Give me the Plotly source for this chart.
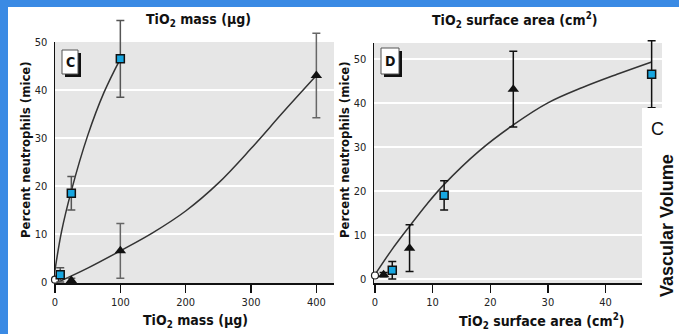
import plotly.graph_objects as go

# ---------------- data ----------------
# Panel C : TiO2 mass (ug)
c_sq_x = [8, 25, 100]
c_sq_y = [1.5, 18.5, 46.5]
c_sq_err = [1.5, 3.5, 8.0]
c_tri_x = [25, 100, 400]
c_tri_y = [0.3, 6.5, 43.0]
c_tri_err = [0.5, 5.7, 8.8]
c_ctrl_x = [0]
c_ctrl_y = [0.5]
c_sq_curve_x = [0, 10, 25, 50, 75, 100]
c_sq_curve_y = [2.5, 10.5, 19.0, 30.5, 39.5, 46.5]
c_tri_curve_x = [5, 50, 100, 150, 200, 250, 300, 350, 400]
c_tri_curve_y = [0.0, 2.9, 6.5, 10.3, 14.8, 20.6, 27.8, 35.5, 43.0]
c_xticks = [0, 100, 200, 300, 400]
c_yticks = [0, 10, 20, 30, 40, 50]

# Panel D : TiO2 surface area (cm2)
d_sq_x = [3, 12, 48]
d_sq_y = [2.0, 19.0, 46.5]
d_sq_err = [2.0, 3.3, 7.6]
d_tri_x = [1.5, 6, 24]
d_tri_y = [1.0, 7.0, 43.1]
d_tri_err = [0.5, 5.3, 8.6]
d_ctrl_x = [0]
d_ctrl_y = [0.8]
d_curve_x = [0, 3, 6, 9, 12, 18, 24, 30, 36, 42, 48]
d_curve_y = [1.0, 6.8, 12.0, 17.0, 21.5, 29.0, 35.0, 40.0, 43.5, 46.5, 49.3]
d_xticks = [0, 10, 20, 30, 40]
d_yticks = [0, 10, 20, 30, 40, 50]

# ---------------- styling ----------------
W, H = 679, 334
BLUE = "#3a8ae4"
GRAY = "#e6e6e6"
CYAN = "#17a6e0"
FONT = "DejaVu Sans Condensed, Liberation Sans Narrow, Liberation Sans, Arial"

# pixel layout of the two panels
C_L, C_R, C_T, C_B = 55, 334, 42, 283
D_L, D_R, D_T, D_B = 374, 662, 43, 283
AUX_T = 12  # taller helper subplot so error bars can rise above the panels
C_XR = [0, 427]
C_YR = [-0.2, 50]
D_XR = [-0.17, 49.8]
D_YR = [-0.9, 53.6]


def px(x):
    return x / W


def py(y):
    return 1 - y / H


def aux_range(yr, top, bottom):
    scale = (bottom - top) / (yr[1] - yr[0])
    return [yr[0], yr[0] + (bottom - AUX_T) / scale]


fig = go.Figure()

line_style = dict(color="#333", width=1.5, shape="spline")
fig.add_trace(go.Scatter(x=c_sq_curve_x, y=c_sq_curve_y, mode="lines", line=line_style,
                         xaxis="x", yaxis="y", hoverinfo="skip"))
fig.add_trace(go.Scatter(x=c_tri_curve_x, y=c_tri_curve_y, mode="lines", line=line_style,
                         xaxis="x", yaxis="y", hoverinfo="skip"))
fig.add_trace(go.Scatter(x=d_curve_x, y=d_curve_y, mode="lines", line=line_style,
                         xaxis="x2", yaxis="y2", hoverinfo="skip"))

# points panel C (on helper axes x3/y3)
fig.add_trace(go.Scatter(x=c_ctrl_x, y=c_ctrl_y, mode="markers", cliponaxis=False,
                         marker=dict(symbol="circle", size=7, color="white", line=dict(color="#222", width=1.2)),
                         xaxis="x3", yaxis="y3"))
fig.add_trace(go.Scatter(x=c_tri_x, y=c_tri_y, mode="markers", cliponaxis=False,
                         error_y=dict(type="data", array=c_tri_err, color="#666", thickness=1.5, width=4),
                         marker=dict(symbol="triangle-up", size=10, color="#111"),
                         xaxis="x3", yaxis="y3"))
fig.add_trace(go.Scatter(x=c_sq_x, y=c_sq_y, mode="markers", cliponaxis=False,
                         error_y=dict(type="data", array=c_sq_err, color="#555", thickness=1.5, width=4),
                         marker=dict(symbol="square", size=8, color=CYAN, line=dict(color="#111", width=1.5)),
                         xaxis="x3", yaxis="y3"))

# points panel D (on helper axes x4/y4)
fig.add_trace(go.Scatter(x=d_ctrl_x, y=d_ctrl_y, mode="markers", cliponaxis=False,
                         marker=dict(symbol="circle", size=7, color="white", line=dict(color="#222", width=1.2)),
                         xaxis="x4", yaxis="y4"))
fig.add_trace(go.Scatter(x=d_tri_x, y=d_tri_y, mode="markers", cliponaxis=False,
                         error_y=dict(type="data", array=d_tri_err, color="#111", thickness=1.5, width=4),
                         marker=dict(symbol="triangle-up", size=10, color="#111"),
                         xaxis="x4", yaxis="y4"))
fig.add_trace(go.Scatter(x=d_sq_x, y=d_sq_y, mode="markers", cliponaxis=False,
                         error_y=dict(type="data", array=d_sq_err, color="#111", thickness=1.5, width=4),
                         marker=dict(symbol="square", size=8, color=CYAN, line=dict(color="#111", width=1.5)),
                         xaxis="x4", yaxis="y4"))

tickfont = dict(family=FONT, size=11, color="#222")
common_x = dict(showline=True, linecolor="#111", linewidth=1.5, ticks="outside", ticklen=8, tickwidth=1.5,
                tickcolor="#111", showgrid=False, zeroline=False, tickfont=tickfont, automargin=False, fixedrange=True)
common_y = dict(showline=True, linecolor="#111", linewidth=1.5, ticks="", showgrid=True, gridcolor="white",
                gridwidth=2, zeroline=False, tickfont=tickfont, ticklabelstandoff=4, automargin=False, fixedrange=True)
hidden = dict(visible=False, showgrid=False, zeroline=False, showline=False, fixedrange=True)

fig.update_layout(
    width=W, height=H, margin=dict(l=0, r=0, t=0, b=0, autoexpand=False),
    paper_bgcolor=BLUE, plot_bgcolor="rgba(0,0,0,0)", showlegend=False, hovermode=False,
    xaxis=dict(common_x, domain=[px(C_L), px(C_R)], range=C_XR, tickvals=c_xticks, anchor="y"),
    yaxis=dict(common_y, domain=[py(C_B), py(C_T)], range=C_YR, tickvals=c_yticks, anchor="x"),
    xaxis2=dict(common_x, domain=[px(D_L), px(D_R)], range=D_XR, tickvals=d_xticks, anchor="y2"),
    yaxis2=dict(common_y, domain=[py(D_B), py(D_T)], range=D_YR, tickvals=d_yticks, anchor="x2"),
    xaxis3=dict(hidden, domain=[px(C_L), px(C_R)], range=C_XR, anchor="y3"),
    yaxis3=dict(hidden, domain=[py(C_B), py(AUX_T)], range=aux_range(C_YR, C_T, C_B), anchor="x3"),
    xaxis4=dict(hidden, domain=[px(D_L), px(D_R)], range=D_XR, anchor="y4"),
    yaxis4=dict(hidden, domain=[py(D_B), py(AUX_T)], range=aux_range(D_YR, D_T, D_B), anchor="x4"),
)

shapes = [
    # white slide content area (blue frame shows at top and left)
    dict(type="rect", xref="paper", yref="paper", x0=px(8), x1=1.01, y0=-0.01, y1=py(7),
         fillcolor="white", line_width=0, layer="below"),
    # gray panel backgrounds
    dict(type="rect", xref="paper", yref="paper", x0=px(C_L), x1=px(C_R), y0=py(C_B), y1=py(C_T),
         fillcolor=GRAY, line_width=0, layer="below"),
    dict(type="rect", xref="paper", yref="paper", x0=px(D_L), x1=px(D_R), y0=py(D_B), y1=py(D_T),
         fillcolor=GRAY, line_width=0, layer="below"),
    # white overlay box at right
    dict(type="rect", xref="paper", yref="paper", x0=px(642), x1=1, y0=0, y1=py(108), fillcolor="white", line_width=0, layer="above"),
    # panel label boxes (shadow + box)
    dict(type="rect", xref="paper", yref="paper", x0=px(65), x1=px(81), y0=py(77), y1=py(53), fillcolor="#111", line_width=0, layer="above"),
    dict(type="rect", xref="paper", yref="paper", x0=px(62), x1=px(78), y0=py(74), y1=py(50), fillcolor="white",
         line=dict(color="#555", width=1), layer="above"),
    dict(type="rect", xref="paper", yref="paper", x0=px(384), x1=px(402), y0=py(77), y1=py(51), fillcolor="#111", line_width=0, layer="above"),
    dict(type="rect", xref="paper", yref="paper", x0=px(381), x1=px(399), y0=py(74), y1=py(48), fillcolor="white",
         line=dict(color="#555", width=1), layer="above"),
]
fig.update_layout(shapes=shapes)

tfont = dict(family=FONT, size=14, color="#111")
yfont = dict(family=FONT, size=13, color="#111")
ann = [
    dict(text="<b>TiO<sub>2</sub> mass (μg)</b>", x=px(198), y=py(20), font=tfont),
    dict(text="<b>TiO<sub>2</sub> surface area (cm<sup>2</sup>)</b>", x=px(515), y=py(20), font=tfont),
    dict(text="<b>TiO<sub>2</sub> mass (μg)</b>", x=px(196), y=py(321), font=tfont),
    dict(text="<b>TiO<sub>2</sub> surface area (cm<sup>2</sup>)</b>", x=px(542), y=py(321), font=tfont),
    dict(text="<b>Percent neutrophils (mice)</b>", x=px(25), y=py(150), textangle=-90, font=yfont),
    dict(text="<b>Percent neutrophils (mice)</b>", x=px(344), y=py(150), textangle=-90, font=yfont),
    dict(text="<b>C</b>", x=px(70), y=py(62), font=dict(family=FONT, size=14, color="#111")),
    dict(text="<b>D</b>", x=px(390), y=py(61), font=dict(family=FONT, size=14, color="#111")),
    dict(text="C", x=px(657), y=py(129), font=dict(family="Liberation Sans, Arial", size=18, color="#111")),
    dict(text="<b>Vascular Volume</b>", x=px(667), y=py(226), textangle=-90,
         font=dict(family="Liberation Sans, Arial", size=18, color="#111")),
]
for a in ann:
    a.update(xref="paper", yref="paper", showarrow=False, xanchor="center", yanchor="middle")
fig.update_layout(annotations=ann)

fig.write_html("out.html", config={"displayModeBar": False, "staticPlot": True},
               post_script="document.body.style.margin='0';document.body.style.overflow='hidden';")
